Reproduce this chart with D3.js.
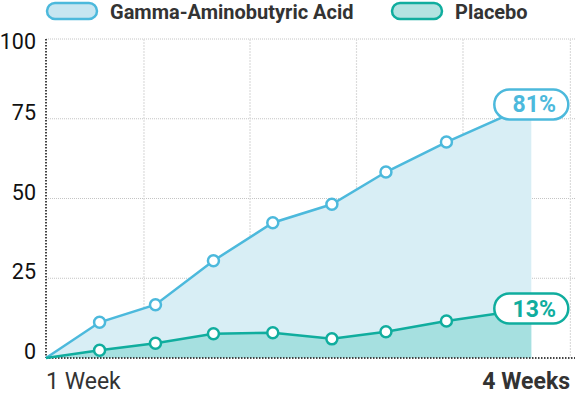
<!DOCTYPE html>
<html>
<head>
<meta charset="utf-8">
<script src="https://cdn.jsdelivr.net/npm/d3@7"></script>
<style>
  body { margin: 0; background: #fff; }
  svg { font-family: Roboto, "Noto Sans", sans-serif; display: block; }
</style>
</head>
<body>
<div id="chart"></div>
<script>
// data (x in days, y in %)
const days = [7, 9.33, 11.76, 14.28, 16.86, 19.43, 21.78, 24.41, 28.1];
const gaba = [0, 11.2, 16.7, 30.5, 42.4, 48.2, 58.3, 67.7, 79.5];
const placebo = [0, 2.4, 4.6, 7.6, 7.9, 6.0, 8.2, 11.6, 15.5];
const endLabels = ['81%', '13%'];
const seriesNames = ['Gamma-Aminobutyric Acid', 'Placebo'];
const yTicks = [0, 25, 50, 75, 100];
const gridDays = [11.26, 15.87, 20.5, 25.13, 29.8];
const xLabels = ['1 Week', '4 Weeks'];

const width = 576, height = 396;
const margin = {top: 39, right: 1, bottom: 38, left: 46};

const colors = {
  gaba: {line: '#4cb9dc', fill: '#d8eef5', legend: '#c7e6f1'},
  placebo: {line: '#10ad9e', fill: '#a6e0e0', legend: '#b3e3e1'}
};

const svg = d3.select('#chart').append('svg')
  .attr('width', width)
  .attr('height', height);

const x = d3.scaleLinear().domain([7, 30]).range([margin.left, width - margin.right]);
const y = d3.scaleLinear().domain([0, 100]).range([height - margin.bottom, margin.top]);

// grid
svg.append('g').selectAll('line')
  .data(yTicks.filter(d => d > 0))
  .enter().append('line')
    .attr('x1', x(7)).attr('x2', x(30))
    .attr('y1', d => y(d)).attr('y2', d => y(d))
    .style('stroke', '#c4c4c4')
    .style('stroke-dasharray', '1,1');
svg.append('g').selectAll('line')
  .data(gridDays)
  .enter().append('line')
    .attr('x1', d => x(d)).attr('x2', d => x(d))
    .attr('y1', y(100)).attr('y2', y(0))
    .style('stroke', '#dcdcdc')
    .style('stroke-width', 1.2)
    .style('stroke-dasharray', '2,1');

// areas
const rows = days.map((d, i) => ({d: d, g: gaba[i], p: placebo[i]}));
const area = key => d3.area().x(d => x(d.d)).y0(y(0)).y1(d => y(d[key]));
const line = key => d3.line().x(d => x(d.d)).y(d => y(d[key]));

svg.append('path').datum(rows)
  .attr('d', area('g'))
  .style('fill', colors.gaba.fill);
svg.append('path').datum(rows)
  .attr('d', area('p'))
  .style('fill', colors.placebo.fill);

// axes (dotted)
svg.append('line')
  .attr('x1', x(7)).attr('x2', x(7))
  .attr('y1', y(100)).attr('y2', y(0))
  .style('stroke', '#444').style('stroke-width', 2)
  .style('stroke-dasharray', '1.5,1.5');
svg.append('line')
  .attr('x1', x(7)).attr('x2', x(30))
  .attr('y1', y(0)).attr('y2', y(0))
  .style('stroke', '#444').style('stroke-width', 2)
  .style('stroke-dasharray', '1.5,1.5');

// lines + points
[['g', colors.gaba], ['p', colors.placebo]].forEach(([key, c]) => {
  svg.append('path').datum(rows)
    .attr('d', line(key))
    .style('fill', 'none')
    .style('stroke', c.line)
    .style('stroke-width', 2.5);
  svg.append('g').selectAll('circle')
    .data(rows.slice(1, -1))
    .enter().append('circle')
      .attr('cx', d => x(d.d))
      .attr('cy', d => y(d[key]))
      .attr('r', 5.5)
      .style('fill', '#fff')
      .style('stroke', c.line)
      .style('stroke-width', 2.5);
});

// end labels
[['g', colors.gaba, endLabels[0]], ['p', colors.placebo, endLabels[1]]].forEach(([key, c, txt]) => {
  const last = rows[rows.length - 1];
  const g = svg.append('g')
    .attr('transform', `translate(${x(last.d)},${y(last[key])})`);
  g.append('rect')
    .attr('x', -37).attr('y', -15)
    .attr('width', 74).attr('height', 30)
    .attr('rx', 15)
    .style('fill', '#fff')
    .style('stroke', c.line)
    .style('stroke-width', 2.5);
  g.append('text')
    .attr('x', 3).attr('y', 8)
    .attr('text-anchor', 'middle')
    .style('font-size', '23px')
    .style('font-weight', 'bold')
    .style('fill', c.line)
    .text(txt);
});

// y tick labels
svg.append('g').selectAll('text')
  .data(yTicks)
  .enter().append('text')
    .attr('x', 36)
    .attr('y', d => Math.max(y(d) + 1, 49))
    .attr('text-anchor', 'end')
    .style('font-size', '21.5px')
    .style('fill', '#111')
    .text(d => d);

// x labels
svg.append('text')
  .attr('x', x(7)).attr('y', 389)
  .style('font-size', '23px')
  .style('fill', '#333')
  .text(xLabels[0]);
svg.append('text')
  .attr('x', 570).attr('y', 389)
  .attr('text-anchor', 'end')
  .style('font-size', '23px')
  .style('font-weight', 'bold')
  .style('fill', '#333')
  .text(xLabels[1]);

// legend
const legendX = [47, 392];
[colors.gaba, colors.placebo].forEach((c, i) => {
  svg.append('rect')
    .attr('x', legendX[i]).attr('y', 3)
    .attr('width', 50).attr('height', 16)
    .attr('rx', 8)
    .style('fill', c.legend)
    .style('stroke', c.line)
    .style('stroke-width', 2.5);
  svg.append('text')
    .attr('x', legendX[i] + 63).attr('y', 19)
    .style('font-size', '20px')
    .style('font-weight', 'bold')
    .style('fill', '#333')
    .text(seriesNames[i]);
});
</script>
</body>
</html>
